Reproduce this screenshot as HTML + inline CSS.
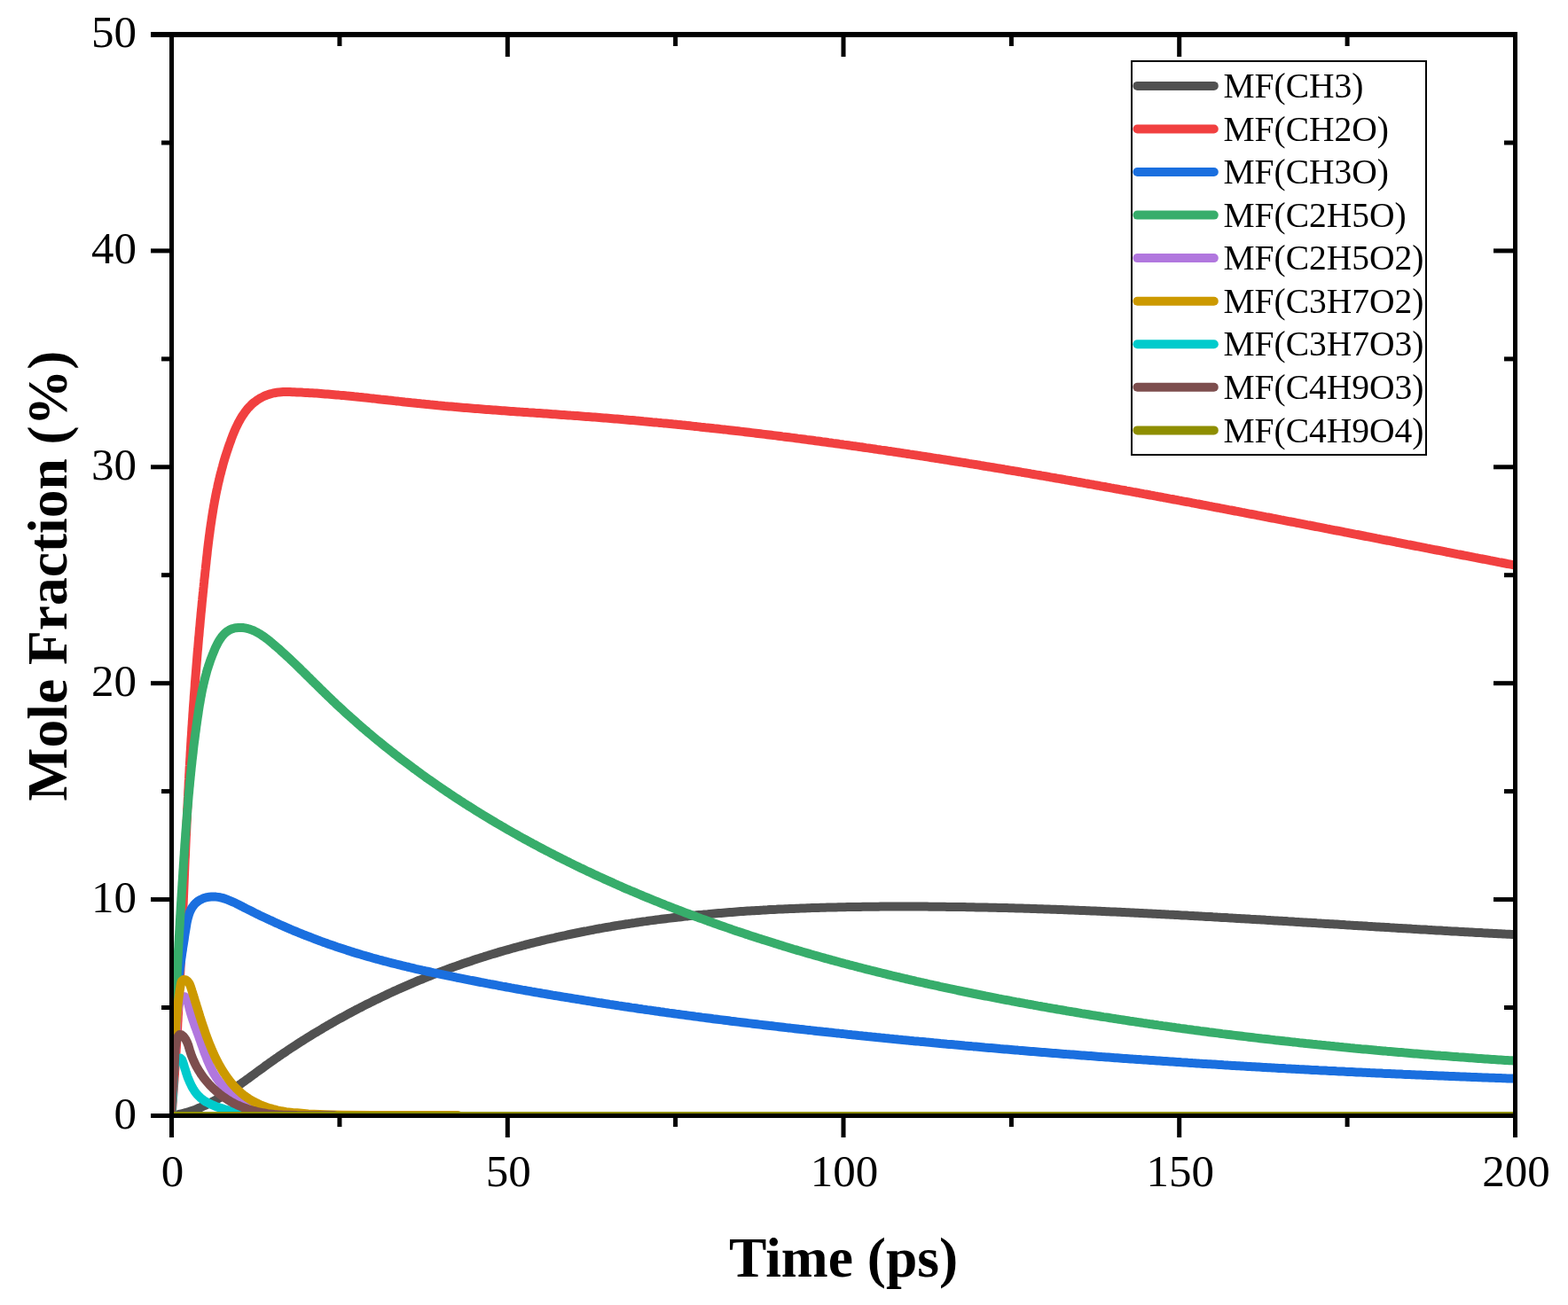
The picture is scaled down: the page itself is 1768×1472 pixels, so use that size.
<!DOCTYPE html>
<html><head><meta charset="utf-8"><title>Mole Fraction vs Time</title><style>html,body{margin:0;padding:0;background:#fff;}svg{display:block;}</style></head><body>
<svg width="1768" height="1472" viewBox="0 0 1768 1472">
<rect width="1768" height="1472" fill="#fff"/>
<defs><clipPath id="pc"><rect x="193.5" y="39" width="1515" height="1219.5"/></clipPath></defs>
<g clip-path="url(#pc)" fill="none" stroke-width="10" stroke-linejoin="round" stroke-linecap="butt">
<path stroke="#515151" d="M193.5,1258.5 196.0,1258.1 198.4,1257.7 200.9,1257.2 203.3,1256.6 205.8,1256.0 208.2,1255.4 210.6,1254.7 213.0,1254.0 215.4,1253.2 217.8,1252.4 220.1,1251.6 222.4,1250.7 224.7,1249.7 227.1,1248.8 229.3,1247.8 231.7,1246.7 233.9,1245.6 236.1,1244.5 238.4,1243.4 240.5,1242.2 242.8,1241.0 244.9,1239.8 247.1,1238.6 249.3,1237.3 251.4,1236.0 253.5,1234.7 255.6,1233.3 257.8,1232.0 259.8,1230.6 261.9,1229.2 264.0,1227.8 266.0,1226.4 268.1,1225.0 270.1,1223.5 272.2,1222.1 274.2,1220.6 276.3,1219.2 278.2,1217.7 280.3,1216.3 282.3,1214.8 284.3,1213.3 286.4,1211.8 288.3,1210.3 290.4,1208.8 292.4,1207.3 294.4,1205.9 296.4,1204.4 298.4,1202.9 300.5,1201.4 302.5,1200.0 304.5,1198.5 306.6,1197.1 308.6,1195.7 310.6,1194.2 312.7,1192.8 314.7,1191.4 316.8,1190.0 318.9,1188.5 320.9,1187.2 323.0,1185.8 325.1,1184.3 327.2,1182.9 329.2,1181.6 331.4,1180.2 333.5,1178.8 335.5,1177.5 337.6,1176.1 339.8,1174.8 341.8,1173.5 344.0,1172.1 346.1,1170.8 348.2,1169.5 350.3,1168.2 352.5,1166.8 354.6,1165.5 356.7,1164.3 358.9,1163.0 361.1,1161.7 363.2,1160.4 365.3,1159.1 367.5,1157.9 369.6,1156.6 371.8,1155.4 374.0,1154.1 376.2,1152.9 378.3,1151.6 380.5,1150.4 382.7,1149.2 384.9,1148.0 387.1,1146.8 389.3,1145.6 391.5,1144.4 393.6,1143.2 395.9,1142.0 398.1,1140.8 400.3,1139.7 402.5,1138.5 404.7,1137.4 407.0,1136.2 409.1,1135.1 411.4,1133.9 413.6,1132.8 415.9,1131.7 418.1,1130.6 420.3,1129.5 422.6,1128.3 424.9,1127.2 427.1,1126.2 429.3,1125.1 431.6,1124.0 433.9,1122.9 436.1,1121.9 438.4,1120.8 440.6,1119.8 442.9,1118.7 445.2,1117.7 447.4,1116.7 449.7,1115.6 452.0,1114.6 454.3,1113.6 456.6,1112.6 458.9,1111.6 461.2,1110.6 463.5,1109.6 465.8,1108.6 468.1,1107.7 470.4,1106.7 472.7,1105.7 475.0,1104.8 477.3,1103.8 479.7,1102.9 482.0,1101.9 484.3,1101.0 486.6,1100.1 488.9,1099.2 491.3,1098.3 493.6,1097.4 496.0,1096.5 498.3,1095.6 500.7,1094.7 502.9,1093.9 505.3,1093.0 507.6,1092.1 510.0,1091.3 512.4,1090.4 514.7,1089.6 517.1,1088.8 519.4,1087.9 521.8,1087.1 524.2,1086.3 526.5,1085.5 528.9,1084.7 531.3,1083.9 533.7,1083.1 536.0,1082.3 538.4,1081.5 540.8,1080.8 543.2,1080.0 545.6,1079.3 547.9,1078.5 550.3,1077.8 552.7,1077.0 555.1,1076.3 557.5,1075.6 559.9,1074.9 562.3,1074.1 564.7,1073.4 567.1,1072.7 569.5,1072.0 571.9,1071.4 574.3,1070.7 576.7,1070.0 579.1,1069.3 581.5,1068.7 583.9,1068.0 586.4,1067.4 588.8,1066.7 591.2,1066.1 593.6,1065.4 596.0,1064.8 598.4,1064.2 600.9,1063.6 603.3,1063.0 605.7,1062.4 608.1,1061.8 610.6,1061.2 613.0,1060.6 615.4,1060.0 617.9,1059.4 620.3,1058.9 622.7,1058.3 625.2,1057.8 627.6,1057.2 630.0,1056.7 632.5,1056.1 634.9,1055.6 637.4,1055.1 639.8,1054.5 642.3,1054.0 644.7,1053.5 647.2,1053.0 649.6,1052.5 652.1,1052.0 654.5,1051.5 657.0,1051.0 659.4,1050.5 661.9,1050.1 664.3,1049.6 666.8,1049.1 669.3,1048.7 671.7,1048.2 674.2,1047.7 676.6,1047.3 679.0,1046.9 681.5,1046.4 684.0,1046.0 686.4,1045.6 688.9,1045.2 691.4,1044.7 693.9,1044.3 696.3,1043.9 698.8,1043.5 701.3,1043.1 703.8,1042.7 706.2,1042.3 708.6,1042.0 711.1,1041.6 713.6,1041.2 716.1,1040.9 718.6,1040.5 721.0,1040.1 723.5,1039.8 726.0,1039.4 728.4,1039.1 730.9,1038.7 733.4,1038.4 735.9,1038.1 738.4,1037.8 740.9,1037.4 743.4,1037.1 745.8,1036.8 748.3,1036.5 750.8,1036.2 753.3,1035.9 755.8,1035.6 758.3,1035.3 760.7,1035.0 763.2,1034.7 765.7,1034.4 768.2,1034.2 770.7,1033.9 773.1,1033.6 775.6,1033.4 778.1,1033.1 780.6,1032.8 783.1,1032.6 785.5,1032.3 788.0,1032.1 790.6,1031.9 793.1,1031.6 795.5,1031.4 798.0,1031.2 800.5,1030.9 803.0,1030.7 805.5,1030.5 808.0,1030.3 810.5,1030.1 813.0,1029.9 815.4,1029.7 817.9,1029.5 820.4,1029.3 823.0,1029.1 825.4,1028.9 827.9,1028.7 830.4,1028.5 832.9,1028.3 835.4,1028.1 837.9,1028.0 840.4,1027.8 842.9,1027.6 845.4,1027.5 847.9,1027.3 850.3,1027.2 852.9,1027.0 855.4,1026.9 857.9,1026.7 860.3,1026.6 862.9,1026.4 865.4,1026.3 867.8,1026.1 870.3,1026.0 872.9,1025.9 875.3,1025.8 877.8,1025.6 880.4,1025.5 882.8,1025.4 885.3,1025.3 887.8,1025.2 890.3,1025.1 892.8,1025.0 895.3,1024.9 897.8,1024.8 900.3,1024.7 902.8,1024.6 905.3,1024.5 907.8,1024.4 910.3,1024.3 912.8,1024.2 915.3,1024.1 917.8,1024.0 920.3,1024.0 922.8,1023.9 925.3,1023.8 927.8,1023.7 930.3,1023.7 932.8,1023.6 935.3,1023.5 937.8,1023.5 940.3,1023.4 942.8,1023.4 945.3,1023.3 947.8,1023.3 950.3,1023.2 952.8,1023.2 955.3,1023.1 957.8,1023.1 960.3,1023.0 962.8,1023.0 965.3,1022.9 967.8,1022.9 970.3,1022.9 972.8,1022.8 975.3,1022.8 977.8,1022.8 980.3,1022.8 982.8,1022.7 985.3,1022.7 987.8,1022.7 990.3,1022.7 992.8,1022.6 995.3,1022.6 997.8,1022.6 1000.3,1022.6 1002.8,1022.6 1005.3,1022.6 1007.8,1022.6 1010.3,1022.6 1012.8,1022.6 1015.3,1022.6 1017.8,1022.6 1020.3,1022.6 1022.8,1022.6 1025.3,1022.6 1027.8,1022.6 1030.3,1022.6 1032.8,1022.6 1035.3,1022.6 1037.8,1022.6 1040.3,1022.6 1042.8,1022.6 1045.3,1022.6 1047.8,1022.7 1050.3,1022.7 1052.8,1022.7 1055.3,1022.7 1057.8,1022.7 1060.3,1022.8 1062.8,1022.8 1065.3,1022.8 1067.8,1022.9 1070.3,1022.9 1072.8,1022.9 1075.3,1022.9 1077.8,1023.0 1080.3,1023.0 1082.8,1023.1 1085.3,1023.1 1087.8,1023.1 1090.3,1023.2 1092.8,1023.2 1095.3,1023.3 1097.8,1023.3 1100.3,1023.4 1102.8,1023.4 1105.3,1023.4 1107.8,1023.5 1110.3,1023.6 1112.8,1023.6 1115.3,1023.7 1117.8,1023.7 1120.3,1023.8 1122.8,1023.8 1125.3,1023.9 1127.8,1023.9 1130.3,1024.0 1132.8,1024.1 1135.3,1024.1 1137.8,1024.2 1140.3,1024.3 1142.8,1024.3 1145.3,1024.4 1147.8,1024.5 1150.3,1024.5 1152.8,1024.6 1155.3,1024.7 1157.8,1024.8 1160.3,1024.8 1162.8,1024.9 1165.3,1025.0 1167.8,1025.1 1170.3,1025.2 1172.8,1025.2 1175.3,1025.3 1177.7,1025.4 1180.2,1025.5 1182.8,1025.6 1185.3,1025.7 1187.8,1025.8 1190.3,1025.8 1192.8,1025.9 1195.3,1026.0 1197.8,1026.1 1200.3,1026.2 1202.7,1026.3 1205.2,1026.4 1207.7,1026.5 1210.2,1026.6 1212.7,1026.7 1215.3,1026.8 1217.8,1026.9 1220.3,1027.0 1222.8,1027.1 1225.3,1027.2 1227.8,1027.3 1230.3,1027.4 1232.7,1027.5 1235.2,1027.6 1237.7,1027.7 1240.2,1027.8 1242.7,1027.9 1245.2,1028.0 1247.7,1028.2 1250.2,1028.3 1252.7,1028.4 1255.2,1028.5 1257.7,1028.6 1260.2,1028.7 1262.8,1028.8 1265.3,1029.0 1267.7,1029.1 1270.2,1029.2 1272.7,1029.3 1275.2,1029.4 1277.7,1029.5 1280.2,1029.7 1282.7,1029.8 1285.2,1029.9 1287.7,1030.0 1290.2,1030.2 1292.7,1030.3 1295.2,1030.4 1297.7,1030.5 1300.2,1030.7 1302.7,1030.8 1305.1,1030.9 1307.6,1031.0 1310.1,1031.2 1312.6,1031.3 1315.1,1031.4 1317.6,1031.6 1320.1,1031.7 1322.7,1031.8 1325.2,1032.0 1327.7,1032.1 1330.2,1032.2 1332.7,1032.4 1335.2,1032.5 1337.7,1032.6 1340.2,1032.8 1342.6,1032.9 1345.1,1033.0 1347.6,1033.2 1350.1,1033.3 1352.6,1033.4 1355.1,1033.6 1357.6,1033.7 1360.1,1033.9 1362.6,1034.0 1365.1,1034.1 1367.6,1034.3 1370.1,1034.4 1372.6,1034.6 1375.1,1034.7 1377.6,1034.9 1380.0,1035.0 1382.5,1035.1 1385.0,1035.3 1387.5,1035.4 1390.0,1035.6 1392.5,1035.7 1395.0,1035.9 1397.5,1036.0 1400.0,1036.2 1402.5,1036.3 1405.0,1036.5 1407.5,1036.6 1410.1,1036.8 1412.6,1036.9 1415.0,1037.0 1417.5,1037.2 1420.0,1037.3 1422.5,1037.5 1425.0,1037.6 1427.5,1037.8 1430.0,1037.9 1432.5,1038.1 1435.0,1038.2 1437.5,1038.4 1440.0,1038.5 1442.5,1038.7 1444.9,1038.8 1447.4,1039.0 1449.9,1039.1 1452.4,1039.3 1454.9,1039.4 1457.4,1039.6 1459.9,1039.8 1462.4,1039.9 1464.9,1040.1 1467.5,1040.2 1470.0,1040.4 1472.4,1040.5 1474.9,1040.7 1477.4,1040.8 1479.9,1041.0 1482.4,1041.1 1484.9,1041.3 1487.4,1041.4 1489.9,1041.6 1492.4,1041.7 1494.8,1041.9 1497.3,1042.0 1499.8,1042.2 1502.4,1042.3 1504.9,1042.5 1507.4,1042.6 1509.9,1042.8 1512.4,1043.0 1514.9,1043.1 1517.3,1043.3 1519.8,1043.4 1522.3,1043.6 1524.8,1043.7 1527.3,1043.9 1529.8,1044.0 1532.3,1044.2 1534.8,1044.3 1537.3,1044.5 1539.8,1044.6 1542.3,1044.8 1544.8,1044.9 1547.3,1045.1 1549.8,1045.2 1552.2,1045.4 1554.7,1045.5 1557.3,1045.7 1559.8,1045.8 1562.3,1046.0 1564.8,1046.1 1567.3,1046.3 1569.7,1046.4 1572.2,1046.6 1574.7,1046.7 1577.2,1046.9 1579.7,1047.0 1582.3,1047.2 1584.7,1047.3 1587.2,1047.5 1589.7,1047.6 1592.2,1047.8 1594.7,1047.9 1597.2,1048.1 1599.7,1048.2 1602.2,1048.4 1604.7,1048.5 1607.2,1048.6 1609.7,1048.8 1612.1,1048.9 1614.7,1049.1 1617.2,1049.2 1619.7,1049.4 1622.2,1049.5 1624.6,1049.6 1627.1,1049.8 1629.7,1049.9 1632.2,1050.1 1634.6,1050.2 1637.1,1050.4 1639.6,1050.5 1642.1,1050.6 1644.7,1050.8 1647.1,1050.9 1649.6,1051.0 1652.1,1051.2 1654.6,1051.3 1657.1,1051.5 1659.6,1051.6 1662.1,1051.7 1664.6,1051.9 1667.1,1052.0 1669.6,1052.1 1672.1,1052.3 1674.6,1052.4 1677.0,1052.5 1679.6,1052.7 1682.1,1052.8 1684.6,1052.9 1687.0,1053.0 1689.6,1053.2 1692.1,1053.3 1694.6,1053.4 1697.0,1053.6 1699.6,1053.7 1702.1,1053.8 1704.5,1053.9 1707.0,1054.1 1709.6,1054.2 1712.0,1054.3"/>
<path stroke="#F14040" d="M193.5,1258.5 193.7,1255.9 193.9,1253.4 194.1,1250.9 194.3,1248.5 194.5,1246.0 194.7,1243.5 194.9,1241.0 195.0,1238.5 195.2,1236.0 195.4,1233.5 195.6,1231.0 195.8,1228.5 195.9,1226.0 196.1,1223.5 196.3,1221.1 196.5,1218.6 196.6,1216.1 196.8,1213.5 197.0,1211.0 197.1,1208.5 197.3,1206.1 197.5,1203.6 197.6,1201.1 197.8,1198.6 197.9,1196.1 198.1,1193.5 198.3,1191.1 198.4,1188.6 198.6,1186.1 198.7,1183.6 198.9,1181.1 199.0,1178.7 199.2,1176.2 199.3,1173.6 199.5,1171.1 199.6,1168.6 199.7,1166.1 199.9,1163.7 200.0,1161.2 200.2,1158.7 200.3,1156.1 200.4,1153.6 200.6,1151.1 200.7,1148.6 200.8,1146.2 201.0,1143.7 201.1,1141.2 201.2,1138.7 201.4,1136.1 201.5,1133.6 201.6,1131.2 201.7,1128.7 201.9,1126.2 202.0,1123.7 202.1,1121.2 202.2,1118.7 202.4,1116.1 202.5,1113.7 202.6,1111.2 202.7,1108.7 202.8,1106.2 203.0,1103.7 203.1,1101.2 203.2,1098.7 203.3,1096.2 203.4,1093.7 203.5,1091.2 203.6,1088.7 203.8,1086.2 203.9,1083.8 204.0,1081.3 204.1,1078.7 204.2,1076.2 204.3,1073.7 204.4,1071.2 204.5,1068.7 204.6,1066.3 204.7,1063.8 204.9,1061.3 205.0,1058.7 205.1,1056.2 205.2,1053.7 205.3,1051.2 205.4,1048.8 205.5,1046.3 205.6,1043.8 205.7,1041.2 205.8,1038.7 205.9,1036.2 206.0,1033.7 206.1,1031.3 206.2,1028.8 206.3,1026.3 206.4,1023.8 206.5,1021.2 206.7,1018.7 206.8,1016.2 206.9,1013.8 207.0,1011.3 207.1,1008.8 207.2,1006.3 207.3,1003.8 207.4,1001.2 207.5,998.7 207.6,996.3 207.7,993.8 207.8,991.3 207.9,988.8 208.0,986.3 208.1,983.7 208.2,981.2 208.3,978.8 208.4,976.3 208.5,973.8 208.6,971.3 208.7,968.8 208.9,966.3 209.0,963.7 209.1,961.3 209.2,958.8 209.3,956.3 209.4,953.8 209.5,951.3 209.6,948.8 209.7,946.4 209.8,943.8 210.0,941.3 210.1,938.8 210.2,936.3 210.3,933.8 210.4,931.3 210.5,928.9 210.6,926.4 210.8,923.8 210.9,921.3 211.0,918.8 211.1,916.3 211.2,913.8 211.3,911.4 211.5,908.9 211.6,906.4 211.7,903.8 211.8,901.3 212.0,898.8 212.1,896.3 212.2,893.9 212.3,891.4 212.5,888.9 212.6,886.4 212.7,883.8 212.8,881.3 213.0,878.8 213.1,876.4 213.2,873.9 213.4,871.4 213.5,868.9 213.6,866.4 213.8,863.8 213.9,861.4 214.1,858.9 214.2,856.4 214.4,853.9 214.5,851.4 214.6,848.9 214.8,846.5 214.9,844.0 215.1,841.4 215.2,838.9 215.4,836.4 215.5,833.9 215.7,831.4 215.9,829.0 216.0,826.5 216.2,824.0 216.3,821.5 216.5,818.9 216.7,816.4 216.8,813.9 217.0,811.5 217.2,809.0 217.3,806.5 217.5,804.0 217.7,801.5 217.8,799.1 218.0,796.5 218.2,794.0 218.4,791.5 218.6,789.0 218.7,786.5 218.9,784.0 219.1,781.6 219.3,779.1 219.5,776.6 219.7,774.0 219.8,771.5 220.0,769.0 220.2,766.6 220.4,764.1 220.6,761.6 220.8,759.1 221.0,756.6 221.2,754.2 221.4,751.6 221.6,749.1 221.8,746.6 222.0,744.1 222.2,741.7 222.4,739.2 222.6,736.7 222.8,734.2 223.1,731.6 223.3,729.2 223.5,726.7 223.7,724.2 223.9,721.7 224.1,719.2 224.4,716.8 224.6,714.3 224.8,711.7 225.0,709.2 225.3,706.8 225.5,704.3 225.7,701.8 225.9,699.3 226.2,696.9 226.4,694.4 226.6,691.8 226.9,689.3 227.1,686.8 227.4,684.4 227.6,681.9 227.8,679.4 228.1,677.0 228.3,674.4 228.6,671.9 228.8,669.4 229.1,667.0 229.3,664.5 229.6,662.0 229.8,659.4 230.1,657.0 230.3,654.5 230.6,652.0 230.9,649.6 231.1,647.1 231.4,644.5 231.7,642.0 231.9,639.6 232.2,637.1 232.5,634.6 232.7,632.2 233.0,629.6 233.3,627.1 233.6,624.7 233.8,622.2 234.1,619.7 234.4,617.2 234.7,614.7 235.0,612.2 235.3,609.8 235.6,607.3 235.9,604.9 236.3,602.3 236.6,599.8 236.9,597.4 237.3,594.9 237.6,592.5 238.0,589.9 238.4,587.5 238.7,585.0 239.1,582.6 239.5,580.1 239.9,577.6 240.3,575.1 240.7,572.7 241.1,570.2 241.6,567.8 242.0,565.2 242.5,562.8 243.0,560.3 243.4,557.9 243.9,555.5 244.4,553.0 245.0,550.6 245.5,548.1 246.0,545.6 246.6,543.2 247.2,540.8 247.7,538.4 248.3,535.9 249.0,533.5 249.6,531.1 250.2,528.7 250.9,526.3 251.5,523.9 252.2,521.4 252.9,519.0 253.6,516.6 254.4,514.2 255.1,511.9 255.9,509.5 256.7,507.1 257.5,504.7 258.3,502.3 259.1,500.1 260.0,497.7 260.8,495.3 261.7,493.0 262.6,490.6 263.5,488.4 264.5,486.0 265.5,483.7 266.6,481.4 267.6,479.3 268.7,477.0 270.0,474.7 271.2,472.6 272.4,470.5 273.8,468.3 275.2,466.3 276.7,464.2 278.2,462.2 279.8,460.3 281.5,458.6 283.3,456.7 285.1,455.0 287.1,453.4 289.1,451.9 291.0,450.6 293.2,449.2 295.4,448.1 297.7,446.9 299.9,446.0 302.3,445.1 304.7,444.4 307.2,443.7 309.6,443.2 312.0,442.8 314.5,442.4 317.0,442.2 319.4,442.0 322.0,442.0 324.4,442.1 326.9,442.1 329.5,442.2 332.0,442.3 334.5,442.4 337.0,442.5 339.5,442.6 342.0,442.8 344.5,442.9 346.9,443.0 349.4,443.2 352.0,443.3 354.5,443.5 357.0,443.6 359.4,443.8 361.9,444.0 364.4,444.2 366.9,444.4 369.5,444.6 371.9,444.8 374.4,445.0 376.9,445.2 379.4,445.4 381.8,445.6 384.4,445.9 386.9,446.1 389.4,446.3 391.8,446.6 394.3,446.8 396.9,447.0 399.3,447.3 401.8,447.5 404.3,447.8 406.7,448.0 409.2,448.3 411.8,448.6 414.3,448.8 416.7,449.1 419.2,449.4 421.7,449.6 424.1,449.9 426.7,450.2 429.2,450.5 431.6,450.7 434.1,451.0 436.6,451.3 439.1,451.6 441.6,451.8 444.1,452.1 446.5,452.4 449.0,452.6 451.5,452.9 454.1,453.2 456.5,453.5 459.0,453.7 461.5,454.0 463.9,454.3 466.4,454.5 469.0,454.8 471.4,455.1 473.9,455.3 476.4,455.6 478.8,455.8 481.3,456.1 483.9,456.3 486.4,456.6 488.8,456.8 491.3,457.0 493.8,457.3 496.3,457.5 498.7,457.7 501.3,458.0 503.8,458.2 506.3,458.4 508.7,458.6 511.2,458.8 513.7,459.1 516.2,459.3 518.8,459.5 521.2,459.7 523.7,459.9 526.2,460.1 528.7,460.3 531.2,460.5 533.6,460.7 536.1,460.9 538.7,461.1 541.2,461.3 543.7,461.5 546.1,461.7 548.6,461.9 551.1,462.0 553.6,462.2 556.1,462.4 558.5,462.6 561.1,462.8 563.6,463.0 566.1,463.2 568.6,463.3 571.1,463.5 573.5,463.7 576.0,463.9 578.5,464.0 581.0,464.2 583.6,464.4 586.1,464.6 588.6,464.7 591.0,464.9 593.5,465.1 596.0,465.3 598.5,465.4 601.0,465.6 603.5,465.8 605.9,465.9 608.5,466.1 611.0,466.3 613.5,466.5 616.0,466.6 618.5,466.8 621.0,467.0 623.4,467.2 625.9,467.3 628.4,467.5 630.9,467.7 633.5,467.9 636.0,468.0 638.4,468.2 640.9,468.4 643.4,468.6 645.9,468.7 648.4,468.9 650.9,469.1 653.3,469.3 655.8,469.5 658.4,469.7 660.9,469.9 663.4,470.0 665.9,470.2 668.3,470.4 670.8,470.6 673.3,470.8 675.8,471.0 678.3,471.2 680.9,471.4 683.3,471.6 685.8,471.8 688.3,472.0 690.8,472.2 693.3,472.4 695.7,472.6 698.2,472.8 700.7,473.0 703.2,473.3 705.8,473.5 708.3,473.7 710.7,473.9 713.2,474.1 715.7,474.3 718.2,474.6 720.6,474.8 723.1,475.0 725.7,475.3 728.2,475.5 730.7,475.7 733.1,475.9 735.6,476.2 738.1,476.4 740.6,476.6 743.0,476.9 745.5,477.1 748.1,477.4 750.6,477.6 753.1,477.8 755.5,478.1 758.0,478.3 760.5,478.6 763.0,478.8 765.4,479.1 768.0,479.3 770.5,479.6 773.0,479.8 775.4,480.1 777.9,480.3 780.4,480.6 782.9,480.9 785.3,481.1 787.9,481.4 790.4,481.7 792.9,481.9 795.3,482.2 797.8,482.4 800.3,482.7 802.7,483.0 805.2,483.3 807.8,483.5 810.3,483.8 812.7,484.1 815.2,484.4 817.7,484.6 820.2,484.9 822.6,485.2 825.2,485.5 827.7,485.8 830.1,486.1 832.6,486.3 835.1,486.6 837.6,486.9 840.0,487.2 842.5,487.5 845.1,487.8 847.5,488.1 850.0,488.4 852.5,488.7 854.9,489.0 857.4,489.3 859.9,489.6 862.4,489.9 864.9,490.2 867.4,490.5 869.9,490.8 872.3,491.1 874.8,491.4 877.3,491.7 879.7,492.0 882.3,492.4 884.8,492.7 887.2,493.0 889.7,493.3 892.2,493.6 894.6,493.9 897.1,494.2 899.6,494.6 902.1,494.9 904.6,495.2 907.1,495.5 909.5,495.9 912.0,496.2 914.5,496.5 916.9,496.8 919.5,497.2 922.0,497.5 924.4,497.8 926.9,498.2 929.4,498.5 931.8,498.8 934.3,499.2 936.8,499.5 939.3,499.9 941.8,500.2 944.3,500.5 946.7,500.9 949.2,501.2 951.6,501.6 954.1,501.9 956.6,502.2 959.1,502.6 961.6,503.0 964.1,503.3 966.5,503.6 969.0,504.0 971.4,504.3 973.9,504.7 976.5,505.1 978.9,505.4 981.4,505.8 983.9,506.1 986.3,506.5 988.8,506.9 991.2,507.2 993.7,507.6 996.3,507.9 998.7,508.3 1001.2,508.7 1003.6,509.0 1006.1,509.4 1008.6,509.8 1011.0,510.1 1013.6,510.5 1016.0,510.9 1018.5,511.3 1021.0,511.6 1023.4,512.0 1025.9,512.4 1028.3,512.7 1030.8,513.1 1033.4,513.5 1035.8,513.9 1038.3,514.3 1040.7,514.6 1043.2,515.0 1045.7,515.4 1048.1,515.8 1050.6,516.2 1053.1,516.6 1055.6,517.0 1058.0,517.3 1060.5,517.7 1063.0,518.1 1065.4,518.5 1067.9,518.9 1070.3,519.3 1072.9,519.7 1075.3,520.1 1077.8,520.5 1080.3,520.9 1082.7,521.3 1085.2,521.6 1087.6,522.0 1090.1,522.4 1092.6,522.9 1095.1,523.3 1097.6,523.6 1100.0,524.0 1102.5,524.4 1104.9,524.8 1107.4,525.3 1109.8,525.7 1112.4,526.1 1114.8,526.5 1117.3,526.9 1119.7,527.3 1122.2,527.7 1124.7,528.1 1127.1,528.5 1129.6,528.9 1132.1,529.3 1134.6,529.8 1137.0,530.2 1139.5,530.6 1141.9,531.0 1144.4,531.4 1146.8,531.8 1149.3,532.2 1151.9,532.7 1154.3,533.1 1156.8,533.5 1159.2,533.9 1161.7,534.3 1164.1,534.8 1166.6,535.2 1169.0,535.6 1171.6,536.0 1174.0,536.5 1176.5,536.9 1178.9,537.3 1181.4,537.7 1183.8,538.2 1186.3,538.6 1188.7,539.0 1191.3,539.5 1193.7,539.9 1196.2,540.3 1198.6,540.7 1201.1,541.2 1203.5,541.6 1206.0,542.0 1208.4,542.5 1210.9,542.9 1213.4,543.3 1215.9,543.8 1218.3,544.2 1220.8,544.6 1223.2,545.1 1225.7,545.5 1228.1,546.0 1230.6,546.4 1233.1,546.8 1235.6,547.3 1238.0,547.7 1240.5,548.2 1242.9,548.6 1245.4,549.0 1247.8,549.5 1250.3,549.9 1252.7,550.4 1255.3,550.8 1257.7,551.3 1260.2,551.7 1262.6,552.2 1265.1,552.6 1267.5,553.0 1270.0,553.5 1272.4,553.9 1275.0,554.4 1277.4,554.9 1279.9,555.3 1282.3,555.7 1284.8,556.2 1287.2,556.6 1289.7,557.1 1292.1,557.5 1294.6,558.0 1297.1,558.5 1299.6,558.9 1302.0,559.4 1304.5,559.8 1306.9,560.3 1309.3,560.7 1311.8,561.2 1314.2,561.6 1316.7,562.1 1319.2,562.6 1321.7,563.0 1324.1,563.5 1326.6,563.9 1329.0,564.4 1331.5,564.8 1333.9,565.3 1336.4,565.8 1338.9,566.2 1341.4,566.7 1343.8,567.2 1346.2,567.6 1348.7,568.1 1351.1,568.5 1353.6,569.0 1356.0,569.5 1358.5,569.9 1361.0,570.4 1363.5,570.9 1365.9,571.3 1368.4,571.8 1370.8,572.3 1373.2,572.7 1375.7,573.2 1378.1,573.6 1380.6,574.1 1383.1,574.6 1385.6,575.1 1388.0,575.5 1390.5,576.0 1392.9,576.5 1395.4,576.9 1397.8,577.4 1400.2,577.9 1402.8,578.3 1405.2,578.8 1407.7,579.3 1410.1,579.8 1412.6,580.2 1415.0,580.7 1417.5,581.2 1419.9,581.6 1422.3,582.1 1424.9,582.6 1427.3,583.1 1429.8,583.5 1432.2,584.0 1434.7,584.5 1437.1,584.9 1439.5,585.4 1442.0,585.9 1444.4,586.4 1447.0,586.8 1449.4,587.3 1451.9,587.8 1454.3,588.3 1456.8,588.7 1459.2,589.2 1461.6,589.7 1464.1,590.1 1466.6,590.6 1469.1,591.1 1471.5,591.6 1474.0,592.1 1476.4,592.5 1478.8,593.0 1481.3,593.5 1483.7,594.0 1486.2,594.4 1488.7,594.9 1491.2,595.4 1493.6,595.9 1496.0,596.4 1498.5,596.8 1500.9,597.3 1503.4,597.8 1505.8,598.3 1508.4,598.7 1510.8,599.2 1513.2,599.7 1515.7,600.2 1518.1,600.6 1520.6,601.1 1523.0,601.6 1525.4,602.1 1528.0,602.6 1530.4,603.0 1532.9,603.5 1535.3,604.0 1537.8,604.5 1540.2,605.0 1542.6,605.4 1545.1,605.9 1547.6,606.4 1550.1,606.9 1552.5,607.4 1555.0,607.8 1557.4,608.3 1559.8,608.8 1562.3,609.3 1564.7,609.7 1567.3,610.2 1569.7,610.7 1572.2,611.2 1574.6,611.7 1577.0,612.1 1579.5,612.6 1581.9,613.1 1584.4,613.6 1586.9,614.1 1589.3,614.5 1591.8,615.0 1594.2,615.5 1596.7,616.0 1599.1,616.4 1601.5,616.9 1604.0,617.4 1606.5,617.9 1609.0,618.4 1611.4,618.8 1613.9,619.3 1616.3,619.8 1618.7,620.3 1621.2,620.7 1623.6,621.2 1626.2,621.7 1628.6,622.2 1631.0,622.7 1633.5,623.1 1635.9,623.6 1638.4,624.1 1640.8,624.6 1643.4,625.1 1645.8,625.5 1648.2,626.0 1650.7,626.5 1653.1,626.9 1655.6,627.4 1658.0,627.9 1660.5,628.4 1663.0,628.9 1665.4,629.3 1667.9,629.8 1670.3,630.3 1672.7,630.7 1675.2,631.2 1677.6,631.7 1680.2,632.2 1682.6,632.6 1685.1,633.1 1687.5,633.6 1689.9,634.1 1692.4,634.5 1694.8,635.0 1697.4,635.5 1699.8,636.0 1702.2,636.4 1704.7,636.9 1707.1,637.4 1709.6,637.8 1712.0,638.3"/>
<path stroke="#1A6FDF" d="M193.5,1258.5 193.6,1256.0 193.7,1253.5 193.8,1251.0 193.9,1248.4 194.0,1245.9 194.1,1243.5 194.2,1241.0 194.3,1238.4 194.4,1236.0 194.4,1233.4 194.5,1231.0 194.6,1228.4 194.7,1226.0 194.8,1223.4 194.9,1221.0 194.9,1218.4 195.0,1215.9 195.1,1213.5 195.2,1210.9 195.3,1208.4 195.4,1206.0 195.5,1203.5 195.5,1200.9 195.6,1198.4 195.7,1196.0 195.8,1193.5 195.9,1190.9 196.0,1188.4 196.1,1185.9 196.2,1183.5 196.3,1181.0 196.4,1178.4 196.5,1175.9 196.6,1173.4 196.7,1171.0 196.9,1168.5 197.0,1165.9 197.1,1163.4 197.2,1161.0 197.4,1158.5 197.5,1155.9 197.7,1153.4 197.8,1151.0 197.9,1148.5 198.1,1145.9 198.3,1143.5 198.4,1141.0 198.6,1138.5 198.8,1136.0 199.0,1133.4 199.1,1131.0 199.3,1128.4 199.5,1126.0 199.7,1123.5 199.9,1121.0 200.2,1118.5 200.4,1116.0 200.6,1113.5 200.9,1111.0 201.1,1108.6 201.4,1106.1 201.6,1103.6 201.9,1101.1 202.2,1098.6 202.5,1096.1 202.8,1093.6 203.1,1091.1 203.4,1088.6 203.7,1086.2 204.1,1083.7 204.4,1081.2 204.8,1078.7 205.1,1076.3 205.5,1073.8 205.9,1071.4 206.2,1068.8 206.6,1066.4 207.0,1063.9 207.4,1061.5 207.8,1059.0 208.1,1056.4 208.5,1054.0 208.9,1051.5 209.3,1049.1 209.7,1046.6 210.1,1044.1 210.5,1041.6 211.0,1039.2 211.6,1036.7 212.2,1034.3 212.9,1032.0 213.7,1029.6 214.7,1027.3 215.8,1025.0 217.1,1022.9 218.6,1020.9 220.3,1019.0 222.1,1017.4 224.2,1015.9 226.4,1014.7 228.6,1013.6 231.0,1012.8 233.4,1012.1 235.9,1011.7 238.3,1011.5 240.9,1011.4 243.4,1011.6 245.8,1011.9 248.3,1012.3 250.8,1012.9 253.1,1013.6 255.5,1014.4 257.8,1015.3 260.2,1016.3 262.5,1017.3 264.7,1018.3 267.0,1019.4 269.2,1020.5 271.5,1021.7 273.7,1022.8 275.9,1024.0 278.1,1025.1 280.4,1026.2 282.6,1027.3 284.9,1028.5 287.1,1029.6 289.3,1030.7 291.5,1031.8 293.8,1032.9 296.1,1034.0 298.3,1035.0 300.6,1036.1 302.9,1037.1 305.1,1038.2 307.4,1039.2 309.7,1040.3 312.0,1041.3 314.2,1042.3 316.5,1043.4 318.9,1044.4 321.1,1045.4 323.4,1046.4 325.7,1047.4 328.0,1048.4 330.3,1049.3 332.6,1050.3 335.0,1051.2 337.2,1052.2 339.6,1053.1 341.9,1054.1 344.2,1055.0 346.5,1055.9 348.9,1056.8 351.2,1057.7 353.5,1058.6 355.9,1059.5 358.2,1060.4 360.6,1061.3 362.9,1062.1 365.2,1063.0 367.6,1063.8 370.0,1064.7 372.3,1065.5 374.7,1066.3 377.1,1067.1 379.5,1068.0 381.8,1068.7 384.2,1069.5 386.6,1070.3 389.0,1071.1 391.3,1071.9 393.7,1072.6 396.1,1073.4 398.4,1074.1 400.9,1074.9 403.3,1075.6 405.7,1076.3 408.0,1077.0 410.5,1077.7 412.8,1078.4 415.3,1079.1 417.7,1079.8 420.0,1080.5 422.5,1081.2 424.9,1081.8 427.3,1082.5 429.8,1083.1 432.1,1083.8 434.6,1084.4 437.0,1085.0 439.4,1085.7 441.8,1086.3 444.3,1086.9 446.7,1087.5 449.1,1088.1 451.5,1088.7 454.0,1089.3 456.4,1089.9 458.9,1090.5 461.3,1091.0 463.7,1091.6 466.1,1092.2 468.6,1092.8 471.0,1093.3 473.4,1093.8 475.9,1094.4 478.3,1094.9 480.8,1095.5 483.2,1096.0 485.7,1096.5 488.2,1097.1 490.6,1097.6 493.1,1098.1 495.5,1098.6 497.9,1099.1 500.4,1099.7 502.8,1100.2 505.2,1100.7 507.8,1101.2 510.2,1101.7 512.6,1102.2 515.1,1102.7 517.5,1103.1 520.0,1103.6 522.5,1104.1 524.9,1104.6 527.4,1105.1 529.8,1105.6 532.2,1106.0 534.8,1106.5 537.2,1107.0 539.6,1107.5 542.1,1108.0 544.5,1108.4 547.0,1108.9 549.5,1109.4 551.9,1109.8 554.4,1110.3 556.9,1110.7 559.3,1111.2 561.8,1111.7 564.2,1112.1 566.7,1112.6 569.2,1113.0 571.6,1113.5 574.1,1113.9 576.5,1114.4 579.0,1114.8 581.5,1115.3 583.9,1115.7 586.4,1116.1 588.8,1116.6 591.3,1117.0 593.8,1117.5 596.2,1117.9 598.7,1118.3 601.2,1118.8 603.6,1119.2 606.1,1119.6 608.5,1120.0 611.1,1120.5 613.5,1120.9 615.9,1121.3 618.4,1121.7 620.9,1122.1 623.4,1122.6 625.8,1123.0 628.3,1123.4 630.8,1123.8 633.2,1124.2 635.7,1124.6 638.2,1125.0 640.7,1125.4 643.1,1125.8 645.5,1126.2 648.1,1126.6 650.5,1127.0 653.0,1127.4 655.4,1127.8 658.0,1128.2 660.4,1128.6 662.8,1129.0 665.4,1129.4 667.8,1129.8 670.3,1130.2 672.7,1130.6 675.3,1131.0 677.7,1131.3 680.2,1131.7 682.7,1132.1 685.1,1132.5 687.6,1132.9 690.1,1133.2 692.6,1133.6 695.0,1134.0 697.5,1134.4 700.0,1134.7 702.4,1135.1 704.9,1135.5 707.4,1135.8 709.9,1136.2 712.3,1136.6 714.9,1136.9 717.3,1137.3 719.8,1137.7 722.3,1138.0 724.7,1138.4 727.2,1138.7 729.7,1139.1 732.2,1139.4 734.6,1139.8 737.1,1140.1 739.6,1140.5 742.1,1140.8 744.5,1141.2 747.0,1141.5 749.5,1141.9 751.9,1142.2 754.5,1142.6 756.9,1142.9 759.4,1143.2 761.9,1143.6 764.4,1143.9 766.8,1144.3 769.4,1144.6 771.8,1144.9 774.3,1145.3 776.8,1145.6 779.2,1145.9 781.8,1146.2 784.2,1146.6 786.7,1146.9 789.2,1147.2 791.7,1147.6 794.1,1147.9 796.7,1148.2 799.1,1148.5 801.5,1148.8 804.1,1149.2 806.5,1149.5 809.0,1149.8 811.5,1150.1 814.0,1150.4 816.5,1150.7 819.0,1151.0 821.4,1151.3 824.0,1151.7 826.4,1152.0 828.9,1152.3 831.4,1152.6 833.8,1152.9 836.4,1153.2 838.8,1153.5 841.3,1153.8 843.8,1154.1 846.3,1154.4 848.7,1154.7 851.3,1155.0 853.7,1155.3 856.3,1155.6 858.7,1155.9 861.1,1156.2 863.7,1156.5 866.1,1156.8 868.7,1157.1 871.1,1157.3 873.6,1157.6 876.1,1157.9 878.6,1158.2 881.1,1158.5 883.6,1158.8 886.0,1159.1 888.6,1159.4 891.0,1159.6 893.5,1159.9 896.0,1160.2 898.4,1160.5 901.0,1160.8 903.4,1161.0 906.0,1161.3 908.4,1161.6 910.9,1161.9 913.4,1162.1 915.9,1162.4 918.4,1162.7 920.9,1163.0 923.4,1163.2 925.8,1163.5 928.3,1163.8 930.8,1164.0 933.3,1164.3 935.8,1164.6 938.3,1164.8 940.7,1165.1 943.3,1165.4 945.7,1165.6 948.3,1165.9 950.7,1166.1 953.2,1166.4 955.7,1166.7 958.2,1166.9 960.7,1167.2 963.1,1167.4 965.7,1167.7 968.1,1168.0 970.7,1168.2 973.1,1168.5 975.6,1168.7 978.1,1169.0 980.5,1169.2 983.1,1169.5 985.5,1169.7 988.1,1170.0 990.5,1170.2 993.1,1170.5 995.5,1170.7 998.0,1171.0 1000.5,1171.2 1002.9,1171.5 1005.5,1171.7 1007.9,1172.0 1010.5,1172.2 1012.9,1172.5 1015.5,1172.7 1017.9,1173.0 1020.5,1173.2 1022.9,1173.4 1025.4,1173.7 1027.9,1173.9 1030.3,1174.2 1032.9,1174.4 1035.3,1174.6 1037.9,1174.9 1040.3,1175.1 1042.9,1175.3 1045.3,1175.6 1047.9,1175.8 1050.3,1176.0 1052.8,1176.3 1055.3,1176.5 1057.8,1176.7 1060.3,1177.0 1062.7,1177.2 1065.3,1177.4 1067.7,1177.7 1070.3,1177.9 1072.7,1178.1 1075.2,1178.3 1077.7,1178.6 1080.2,1178.8 1082.7,1179.0 1085.2,1179.2 1087.7,1179.5 1090.2,1179.7 1092.7,1179.9 1095.2,1180.1 1097.6,1180.4 1100.2,1180.6 1102.6,1180.8 1105.2,1181.0 1107.6,1181.2 1110.2,1181.5 1112.6,1181.7 1115.1,1181.9 1117.6,1182.1 1120.1,1182.3 1122.6,1182.5 1125.1,1182.7 1127.6,1183.0 1130.0,1183.2 1132.6,1183.4 1135.0,1183.6 1137.6,1183.8 1140.0,1184.0 1142.5,1184.2 1145.0,1184.4 1147.5,1184.6 1150.0,1184.9 1152.5,1185.1 1155.0,1185.3 1157.5,1185.5 1159.9,1185.7 1162.5,1185.9 1164.9,1186.1 1167.5,1186.3 1169.9,1186.5 1172.5,1186.7 1174.9,1186.9 1177.5,1187.1 1179.9,1187.3 1182.4,1187.5 1184.9,1187.7 1187.4,1187.9 1189.9,1188.1 1192.4,1188.3 1194.9,1188.5 1197.4,1188.7 1199.9,1188.9 1202.4,1189.1 1204.9,1189.2 1207.4,1189.4 1209.9,1189.6 1212.4,1189.8 1214.9,1190.0 1217.4,1190.2 1219.9,1190.4 1222.3,1190.6 1224.9,1190.8 1227.3,1191.0 1229.9,1191.1 1232.3,1191.3 1234.9,1191.5 1237.3,1191.7 1239.8,1191.9 1242.3,1192.1 1244.8,1192.2 1247.3,1192.4 1249.8,1192.6 1252.3,1192.8 1254.8,1193.0 1257.2,1193.2 1259.8,1193.3 1262.2,1193.5 1264.8,1193.7 1267.3,1193.9 1269.8,1194.0 1272.3,1194.2 1274.8,1194.4 1277.3,1194.6 1279.7,1194.7 1282.3,1194.9 1284.7,1195.1 1287.3,1195.3 1289.7,1195.4 1292.3,1195.6 1294.7,1195.8 1297.2,1196.0 1299.7,1196.1 1302.2,1196.3 1304.7,1196.5 1307.2,1196.6 1309.7,1196.8 1312.2,1197.0 1314.7,1197.1 1317.2,1197.3 1319.7,1197.5 1322.2,1197.6 1324.7,1197.8 1327.2,1198.0 1329.7,1198.1 1332.1,1198.3 1334.7,1198.4 1337.1,1198.6 1339.7,1198.8 1342.1,1198.9 1344.7,1199.1 1347.2,1199.2 1349.6,1199.4 1352.2,1199.6 1354.6,1199.7 1357.2,1199.9 1359.6,1200.0 1362.2,1200.2 1364.6,1200.3 1367.2,1200.5 1369.6,1200.6 1372.1,1200.8 1374.6,1201.0 1377.1,1201.1 1379.7,1201.3 1382.1,1201.4 1384.7,1201.6 1387.1,1201.7 1389.6,1201.9 1392.1,1202.0 1394.6,1202.2 1397.1,1202.3 1399.6,1202.4 1402.1,1202.6 1404.6,1202.7 1407.1,1202.9 1409.6,1203.0 1412.1,1203.2 1414.6,1203.3 1417.1,1203.5 1419.6,1203.6 1422.1,1203.7 1424.5,1203.9 1427.1,1204.0 1429.6,1204.2 1432.1,1204.3 1434.6,1204.4 1437.1,1204.6 1439.6,1204.7 1442.1,1204.9 1444.6,1205.0 1447.0,1205.1 1449.6,1205.3 1452.0,1205.4 1454.6,1205.5 1457.1,1205.7 1459.6,1205.8 1462.1,1205.9 1464.5,1206.1 1467.1,1206.2 1469.5,1206.3 1472.1,1206.5 1474.5,1206.6 1477.1,1206.7 1479.5,1206.9 1482.0,1207.0 1484.6,1207.1 1487.0,1207.3 1489.6,1207.4 1492.0,1207.5 1494.6,1207.6 1497.0,1207.8 1499.6,1207.9 1502.0,1208.0 1504.5,1208.1 1507.1,1208.3 1509.5,1208.4 1512.1,1208.5 1514.5,1208.6 1517.1,1208.8 1519.5,1208.9 1522.0,1209.0 1524.5,1209.1 1527.0,1209.2 1529.6,1209.4 1532.0,1209.5 1534.6,1209.6 1537.0,1209.7 1539.6,1209.8 1542.0,1209.9 1544.5,1210.1 1547.0,1210.2 1549.5,1210.3 1552.1,1210.4 1554.5,1210.5 1557.1,1210.6 1559.5,1210.8 1562.1,1210.9 1564.5,1211.0 1567.0,1211.1 1569.5,1211.2 1572.0,1211.3 1574.6,1211.4 1577.0,1211.5 1579.6,1211.6 1582.0,1211.8 1584.6,1211.9 1587.0,1212.0 1589.5,1212.1 1592.0,1212.2 1594.5,1212.3 1597.1,1212.4 1599.5,1212.5 1602.1,1212.6 1604.5,1212.7 1607.1,1212.8 1609.5,1212.9 1612.0,1213.0 1614.5,1213.1 1617.0,1213.2 1619.5,1213.3 1622.0,1213.4 1624.6,1213.5 1627.0,1213.6 1629.6,1213.7 1632.0,1213.8 1634.5,1213.9 1637.0,1214.0 1639.5,1214.1 1642.0,1214.2 1644.5,1214.3 1647.1,1214.4 1649.5,1214.5 1652.1,1214.6 1654.5,1214.7 1657.0,1214.8 1659.5,1214.9 1662.0,1215.0 1664.5,1215.1 1667.0,1215.2 1669.6,1215.3 1672.0,1215.4 1674.6,1215.5 1677.0,1215.6 1679.6,1215.7 1682.0,1215.7 1684.5,1215.8 1687.0,1215.9 1689.5,1216.0 1692.1,1216.1 1694.5,1216.2 1697.1,1216.3 1699.5,1216.4 1702.1,1216.5 1704.5,1216.5 1707.1,1216.6 1709.5,1216.7 1712.0,1216.8"/>
<path stroke="#37AD6B" d="M193.5,1258.5 193.6,1255.9 193.6,1253.5 193.7,1250.9 193.8,1248.5 193.8,1245.9 193.9,1243.5 194.0,1240.9 194.1,1238.5 194.1,1235.9 194.2,1233.4 194.3,1230.9 194.4,1228.4 194.4,1225.9 194.5,1223.4 194.6,1220.9 194.7,1218.4 194.8,1216.0 194.8,1213.4 194.9,1211.0 195.0,1208.4 195.1,1206.0 195.2,1203.4 195.3,1201.0 195.4,1198.4 195.5,1196.0 195.5,1193.4 195.6,1190.9 195.7,1188.4 195.8,1185.9 195.9,1183.4 196.0,1180.9 196.1,1178.4 196.2,1175.9 196.3,1173.4 196.4,1170.9 196.5,1168.4 196.6,1165.9 196.7,1163.4 196.8,1160.9 196.9,1158.4 197.0,1155.9 197.1,1153.4 197.2,1150.9 197.3,1148.4 197.5,1145.9 197.6,1143.4 197.7,1140.9 197.8,1138.4 197.9,1135.8 198.0,1133.4 198.1,1130.8 198.2,1128.4 198.4,1125.8 198.5,1123.4 198.6,1120.8 198.7,1118.4 198.8,1115.8 198.9,1113.4 199.1,1110.8 199.2,1108.4 199.3,1105.9 199.4,1103.4 199.6,1100.9 199.7,1098.4 199.8,1095.9 199.9,1093.4 200.1,1090.9 200.2,1088.4 200.3,1085.9 200.5,1083.4 200.6,1080.9 200.7,1078.4 200.9,1075.9 201.0,1073.4 201.1,1070.9 201.3,1068.4 201.4,1065.9 201.5,1063.4 201.7,1060.9 201.8,1058.4 201.9,1055.9 202.1,1053.4 202.2,1050.9 202.4,1048.4 202.5,1045.9 202.7,1043.5 202.8,1040.9 202.9,1038.5 203.1,1035.9 203.2,1033.5 203.4,1030.9 203.5,1028.5 203.7,1025.9 203.8,1023.5 204.0,1020.9 204.1,1018.5 204.3,1015.9 204.4,1013.5 204.6,1010.9 204.7,1008.5 204.9,1005.9 205.1,1003.5 205.2,1000.9 205.4,998.5 205.5,995.9 205.7,993.5 205.9,990.9 206.0,988.5 206.2,985.9 206.3,983.5 206.5,980.9 206.7,978.5 206.8,975.9 207.0,973.5 207.2,970.9 207.3,968.5 207.5,966.0 207.7,963.5 207.8,961.0 208.0,958.5 208.2,956.0 208.3,953.5 208.5,951.0 208.7,948.5 208.9,946.0 209.1,943.5 209.2,941.0 209.4,938.5 209.6,936.0 209.8,933.6 210.0,931.0 210.2,928.6 210.4,926.0 210.6,923.6 210.8,921.0 210.9,918.6 211.2,916.0 211.3,913.6 211.6,911.0 211.8,908.6 212.0,906.0 212.2,903.6 212.4,901.0 212.6,898.6 212.8,896.1 213.1,893.6 213.3,891.1 213.5,888.6 213.8,886.1 214.0,883.6 214.2,881.1 214.5,878.7 214.7,876.1 215.0,873.7 215.2,871.1 215.5,868.7 215.7,866.2 216.0,863.7 216.3,861.2 216.5,858.8 216.8,856.2 217.1,853.8 217.4,851.2 217.7,848.8 217.9,846.3 218.2,843.9 218.5,841.3 218.8,838.9 219.1,836.4 219.5,833.8 219.8,831.4 220.1,828.9 220.4,826.5 220.8,823.9 221.1,821.5 221.4,819.0 221.8,816.5 222.1,814.1 222.5,811.5 222.8,809.1 223.2,806.6 223.6,804.1 223.9,801.7 224.3,799.2 224.7,796.8 225.1,794.2 225.6,791.7 226.0,789.3 226.4,786.8 226.9,784.4 227.3,781.9 227.8,779.5 228.3,777.0 228.9,774.6 229.4,772.1 230.0,769.7 230.6,767.2 231.2,764.8 231.8,762.5 232.5,760.0 233.1,757.6 233.8,755.2 234.6,752.8 235.3,750.5 236.2,748.0 236.9,745.7 237.8,743.3 238.7,741.0 239.6,738.6 240.5,736.4 241.5,734.0 242.4,731.7 243.5,729.4 244.6,727.2 245.7,725.0 247.0,722.8 248.4,720.6 249.7,718.7 251.4,716.6 253.0,714.9 254.9,713.1 256.9,711.7 259.1,710.4 261.4,709.4 263.8,708.7 266.2,708.2 268.7,708.0 271.2,707.9 273.7,708.0 276.2,708.4 278.6,708.9 281.0,709.5 283.4,710.4 285.8,711.3 288.0,712.4 290.2,713.5 292.4,714.8 294.5,716.1 296.6,717.5 298.7,718.9 300.7,720.4 302.6,721.9 304.6,723.5 306.5,725.1 308.4,726.7 310.3,728.4 312.2,730.0 314.1,731.6 316.0,733.3 317.8,735.0 319.7,736.7 321.5,738.3 323.3,740.0 325.2,741.7 327.0,743.4 328.8,745.2 330.6,746.9 332.5,748.7 334.3,750.4 336.1,752.1 337.9,753.9 339.6,755.6 341.4,757.3 343.2,759.1 345.0,760.9 346.7,762.6 348.6,764.4 350.3,766.1 352.1,768.0 353.9,769.7 355.6,771.4 357.5,773.2 359.2,774.9 361.0,776.7 362.8,778.5 364.6,780.2 366.4,782.0 368.2,783.7 369.9,785.4 371.8,787.2 373.6,788.9 375.4,790.7 377.2,792.3 379.0,794.1 380.8,795.8 382.7,797.5 384.6,799.2 386.4,800.9 388.2,802.6 390.0,804.3 391.9,806.0 393.7,807.6 395.6,809.3 397.5,810.9 399.4,812.6 401.3,814.3 403.1,815.9 405.0,817.6 406.9,819.2 408.8,820.9 410.7,822.5 412.6,824.1 414.5,825.8 416.4,827.3 418.4,829.0 420.2,830.5 422.2,832.2 424.1,833.8 426.0,835.3 428.0,836.9 429.9,838.5 431.9,840.1 433.8,841.7 435.8,843.2 437.7,844.8 439.7,846.3 441.7,847.9 443.7,849.5 445.6,851.0 447.6,852.5 449.5,854.0 451.5,855.6 453.6,857.1 455.5,858.6 457.5,860.1 459.5,861.6 461.5,863.1 463.5,864.6 465.5,866.1 467.6,867.6 469.6,869.1 471.6,870.5 473.6,872.0 475.6,873.5 477.7,875.0 479.7,876.4 481.7,877.9 483.8,879.3 485.8,880.7 487.9,882.2 490.0,883.6 492.0,885.0 494.1,886.5 496.1,887.9 498.2,889.3 500.2,890.7 502.3,892.1 504.4,893.5 506.5,894.9 508.6,896.3 510.6,897.7 512.7,899.1 514.9,900.5 516.9,901.8 519.0,903.2 521.1,904.5 523.2,905.9 525.3,907.2 527.4,908.6 529.6,909.9 531.7,911.2 533.8,912.6 535.9,913.9 538.0,915.2 540.1,916.5 542.3,917.9 544.5,919.2 546.6,920.5 548.7,921.8 550.8,923.1 553.0,924.4 555.1,925.6 557.3,926.9 559.4,928.2 561.6,929.5 563.7,930.7 565.9,932.0 568.0,933.2 570.2,934.5 572.5,935.8 574.6,937.0 576.8,938.3 578.9,939.5 581.1,940.7 583.3,941.9 585.5,943.2 587.6,944.4 589.9,945.6 592.0,946.8 594.3,948.0 596.4,949.2 598.7,950.4 600.8,951.6 603.1,952.8 605.2,953.9 607.5,955.1 609.6,956.3 611.9,957.5 614.1,958.6 616.3,959.8 618.5,960.9 620.8,962.1 623.0,963.2 625.2,964.4 627.4,965.5 629.7,966.7 631.9,967.8 634.2,968.9 636.4,970.0 638.6,971.1 640.9,972.3 643.1,973.4 645.4,974.5 647.6,975.6 649.9,976.7 652.1,977.8 654.4,978.9 656.6,979.9 658.9,981.0 661.1,982.1 663.3,983.2 665.7,984.2 667.9,985.3 670.2,986.4 672.4,987.4 674.8,988.5 677.0,989.5 679.3,990.6 681.5,991.6 683.8,992.6 686.1,993.7 688.4,994.7 690.7,995.7 692.9,996.7 695.3,997.8 697.5,998.8 699.8,999.7 702.1,1000.8 704.4,1001.8 706.7,1002.8 709.0,1003.7 711.4,1004.8 713.6,1005.7 715.9,1006.7 718.2,1007.7 720.5,1008.6 722.9,1009.6 725.1,1010.6 727.5,1011.6 729.8,1012.5 732.0,1013.4 734.4,1014.4 736.7,1015.3 739.1,1016.3 741.4,1017.2 743.6,1018.1 746.0,1019.1 748.3,1020.0 750.7,1021.0 753.0,1021.9 755.4,1022.8 757.6,1023.7 759.9,1024.6 762.3,1025.5 764.6,1026.4 767.0,1027.3 769.3,1028.2 771.6,1029.1 774.0,1030.0 776.3,1030.8 778.7,1031.7 781.0,1032.6 783.4,1033.5 785.7,1034.4 788.0,1035.2 790.4,1036.1 792.7,1036.9 795.2,1037.8 797.5,1038.6 799.8,1039.5 802.2,1040.3 804.5,1041.2 806.9,1042.0 809.2,1042.8 811.7,1043.7 814.0,1044.5 816.4,1045.3 818.7,1046.1 821.0,1046.9 823.5,1047.8 825.8,1048.6 828.2,1049.4 830.5,1050.2 833.0,1051.0 835.3,1051.8 837.7,1052.6 840.0,1053.4 842.4,1054.1 844.8,1054.9 847.1,1055.7 849.6,1056.5 851.9,1057.3 854.3,1058.1 856.7,1058.8 859.1,1059.6 861.4,1060.3 863.9,1061.1 866.2,1061.8 868.7,1062.6 871.0,1063.3 873.4,1064.1 875.8,1064.8 878.2,1065.6 880.6,1066.3 883.0,1067.1 885.3,1067.8 887.8,1068.5 890.1,1069.2 892.6,1070.0 894.9,1070.7 897.4,1071.4 899.7,1072.1 902.2,1072.8 904.5,1073.5 907.0,1074.2 909.3,1074.9 911.8,1075.6 914.1,1076.3 916.6,1077.0 918.9,1077.7 921.4,1078.3 923.8,1079.0 926.2,1079.7 928.6,1080.4 931.0,1081.1 933.4,1081.7 935.9,1082.4 938.3,1083.1 940.7,1083.7 943.1,1084.4 945.5,1085.0 948.0,1085.7 950.3,1086.3 952.8,1087.0 955.2,1087.6 957.6,1088.3 960.0,1088.9 962.5,1089.5 964.8,1090.1 967.3,1090.8 969.7,1091.4 972.1,1092.0 974.6,1092.7 977.0,1093.3 979.5,1093.9 981.8,1094.5 984.3,1095.1 986.7,1095.7 989.1,1096.3 991.5,1096.9 994.0,1097.5 996.4,1098.1 998.9,1098.7 1001.2,1099.3 1003.7,1099.9 1006.1,1100.5 1008.6,1101.1 1011.0,1101.7 1013.4,1102.2 1015.9,1102.8 1018.3,1103.4 1020.8,1104.0 1023.2,1104.5 1025.6,1105.1 1028.0,1105.7 1030.5,1106.2 1032.9,1106.8 1035.4,1107.3 1037.9,1107.9 1040.3,1108.4 1042.7,1109.0 1045.1,1109.5 1047.6,1110.1 1050.0,1110.6 1052.5,1111.2 1054.9,1111.7 1057.4,1112.2 1059.8,1112.8 1062.3,1113.3 1064.7,1113.8 1067.2,1114.4 1069.5,1114.9 1072.0,1115.4 1074.5,1115.9 1076.9,1116.4 1079.4,1117.0 1081.8,1117.5 1084.3,1118.0 1086.7,1118.5 1089.2,1119.0 1091.6,1119.5 1094.1,1120.0 1096.5,1120.5 1099.0,1121.0 1101.4,1121.5 1103.9,1122.0 1106.3,1122.5 1108.8,1123.0 1111.2,1123.5 1113.7,1123.9 1116.2,1124.4 1118.6,1124.9 1121.1,1125.4 1123.5,1125.9 1126.0,1126.4 1128.4,1126.8 1131.0,1127.3 1133.4,1127.8 1135.9,1128.2 1138.3,1128.7 1140.8,1129.2 1143.2,1129.6 1145.7,1130.1 1148.1,1130.5 1150.6,1131.0 1153.0,1131.4 1155.5,1131.9 1157.9,1132.3 1160.5,1132.8 1162.9,1133.2 1165.4,1133.7 1167.8,1134.1 1170.3,1134.6 1172.7,1135.0 1175.2,1135.5 1177.6,1135.9 1180.2,1136.3 1182.6,1136.8 1185.1,1137.2 1187.5,1137.6 1190.0,1138.0 1192.4,1138.5 1195.0,1138.9 1197.4,1139.3 1199.9,1139.7 1202.3,1140.2 1204.8,1140.6 1207.2,1141.0 1209.8,1141.4 1212.2,1141.8 1214.7,1142.2 1217.1,1142.6 1219.6,1143.1 1222.1,1143.5 1224.6,1143.9 1227.0,1144.3 1229.5,1144.7 1231.9,1145.1 1234.5,1145.5 1236.9,1145.9 1239.4,1146.3 1241.8,1146.7 1244.4,1147.1 1246.8,1147.4 1249.3,1147.8 1251.7,1148.2 1254.2,1148.6 1256.7,1149.0 1259.2,1149.4 1261.6,1149.8 1264.1,1150.1 1266.6,1150.5 1269.1,1150.9 1271.5,1151.3 1274.1,1151.7 1276.5,1152.0 1279.0,1152.4 1281.4,1152.8 1284.0,1153.1 1286.4,1153.5 1288.9,1153.9 1291.3,1154.2 1293.9,1154.6 1296.3,1155.0 1298.7,1155.3 1301.3,1155.7 1303.7,1156.0 1306.2,1156.4 1308.6,1156.7 1311.2,1157.1 1313.6,1157.4 1316.1,1157.8 1318.6,1158.1 1321.1,1158.5 1323.5,1158.8 1326.1,1159.2 1328.5,1159.5 1331.0,1159.9 1333.5,1160.2 1336.0,1160.5 1338.4,1160.9 1341.0,1161.2 1343.4,1161.5 1345.9,1161.9 1348.4,1162.2 1350.8,1162.5 1353.3,1162.9 1355.8,1163.2 1358.3,1163.5 1360.7,1163.8 1363.3,1164.2 1365.7,1164.5 1368.2,1164.8 1370.7,1165.1 1373.2,1165.4 1375.6,1165.7 1378.2,1166.1 1380.6,1166.4 1383.2,1166.7 1385.6,1167.0 1388.0,1167.3 1390.6,1167.6 1393.0,1167.9 1395.5,1168.2 1398.0,1168.5 1400.5,1168.8 1403.0,1169.1 1405.5,1169.4 1407.9,1169.7 1410.5,1170.0 1412.9,1170.3 1415.5,1170.6 1417.9,1170.9 1420.4,1171.2 1422.9,1171.5 1425.3,1171.7 1427.8,1172.0 1430.3,1172.3 1432.8,1172.6 1435.3,1172.9 1437.8,1173.2 1440.2,1173.4 1442.8,1173.7 1445.2,1174.0 1447.8,1174.3 1450.2,1174.6 1452.8,1174.8 1455.2,1175.1 1457.7,1175.4 1460.2,1175.6 1462.6,1175.9 1465.2,1176.2 1467.6,1176.4 1470.1,1176.7 1472.6,1177.0 1475.1,1177.2 1477.6,1177.5 1480.1,1177.8 1482.6,1178.0 1485.1,1178.3 1487.5,1178.5 1490.1,1178.8 1492.5,1179.0 1495.1,1179.3 1497.5,1179.5 1500.1,1179.8 1502.5,1180.0 1505.0,1180.3 1507.5,1180.5 1509.9,1180.8 1512.5,1181.0 1514.9,1181.3 1517.5,1181.5 1519.9,1181.7 1522.4,1182.0 1524.9,1182.2 1527.4,1182.5 1529.9,1182.7 1532.4,1182.9 1534.9,1183.2 1537.4,1183.4 1539.8,1183.6 1542.4,1183.8 1544.8,1184.1 1547.4,1184.3 1549.8,1184.5 1552.4,1184.8 1554.8,1185.0 1557.4,1185.2 1559.8,1185.4 1562.4,1185.6 1564.8,1185.9 1567.3,1186.1 1569.8,1186.3 1572.2,1186.5 1574.8,1186.7 1577.2,1186.9 1579.8,1187.1 1582.2,1187.3 1584.8,1187.6 1587.2,1187.8 1589.7,1188.0 1592.2,1188.2 1594.7,1188.4 1597.2,1188.6 1599.7,1188.8 1602.2,1189.0 1604.7,1189.2 1607.2,1189.4 1609.7,1189.6 1612.1,1189.8 1614.7,1190.0 1617.1,1190.2 1619.7,1190.4 1622.1,1190.6 1624.7,1190.8 1627.1,1190.9 1629.7,1191.1 1632.1,1191.3 1634.6,1191.5 1637.2,1191.7 1639.6,1191.9 1642.2,1192.1 1644.6,1192.3 1647.2,1192.4 1649.6,1192.6 1652.2,1192.8 1654.6,1193.0 1657.1,1193.2 1659.6,1193.3 1662.1,1193.5 1664.6,1193.7 1667.1,1193.9 1669.6,1194.0 1672.1,1194.2 1674.6,1194.4 1677.1,1194.5 1679.5,1194.7 1682.1,1194.9 1684.5,1195.0 1687.1,1195.2 1689.6,1195.4 1692.1,1195.5 1694.6,1195.7 1697.0,1195.9 1699.6,1196.0 1702.0,1196.2 1704.6,1196.3 1707.0,1196.5 1709.6,1196.6 1712.0,1196.8"/>
<path stroke="#B177DE" d="M193.5,1258.5 193.5,1256.0 193.5,1253.5 193.5,1251.0 193.5,1248.4 193.5,1245.9 193.6,1243.4 193.7,1240.9 193.8,1238.4 193.9,1235.9 194.0,1233.4 194.1,1230.8 194.2,1228.3 194.3,1225.8 194.5,1223.3 194.7,1220.8 194.8,1218.3 195.0,1215.8 195.2,1213.3 195.3,1210.8 195.5,1208.2 195.7,1205.7 195.9,1203.2 196.1,1200.7 196.3,1198.2 196.5,1195.7 196.7,1193.2 196.9,1190.7 197.1,1188.2 197.2,1185.7 197.4,1183.2 197.6,1180.7 197.8,1178.2 198.0,1175.6 198.1,1173.1 198.3,1170.6 198.4,1168.1 198.6,1165.6 198.7,1163.1 198.8,1160.6 198.9,1158.1 199.0,1155.6 199.1,1153.0 199.3,1150.5 199.4,1148.0 199.6,1145.5 199.9,1143.0 200.2,1140.5 200.7,1138.0 201.2,1135.6 201.8,1133.2 202.6,1130.8 203.5,1128.4 204.6,1126.1 206.2,1124.2 208.6,1124.3 210.3,1126.2 211.3,1128.5 212.0,1130.9 212.6,1133.3 213.2,1135.8 213.8,1138.2 214.4,1140.6 215.1,1143.0 215.8,1145.5 216.6,1147.9 217.4,1150.3 218.2,1152.6 219.0,1155.0 219.8,1157.4 220.7,1159.7 221.6,1162.1 222.4,1164.5 223.3,1166.8 224.2,1169.2 225.0,1171.6 225.9,1173.9 226.7,1176.3 227.5,1178.7 228.4,1181.1 229.2,1183.4 230.0,1185.8 230.9,1188.2 231.8,1190.5 232.7,1192.8 233.6,1195.2 234.6,1197.5 235.6,1199.8 236.6,1202.1 237.7,1204.4 238.8,1206.6 240.0,1208.9 241.2,1211.1 242.5,1213.2 243.8,1215.3 245.3,1217.4 246.7,1219.4 248.3,1221.4 249.9,1223.3 251.7,1225.2 253.5,1226.9 255.4,1228.6 257.3,1230.1 259.4,1231.5 261.6,1232.9 263.7,1234.1 266.0,1235.3 268.2,1236.4 270.5,1237.5 272.8,1238.6 275.0,1239.7 277.3,1240.7 279.6,1241.8 281.9,1242.8 284.2,1243.8 286.5,1244.8 288.8,1245.8 291.1,1246.7 293.5,1247.6 295.8,1248.5 298.2,1249.4 300.6,1250.2 303.0,1251.0 305.4,1251.8 307.8,1252.5 310.2,1253.1 312.6,1253.8 315.1,1254.4 317.5,1254.9 320.0,1255.4 322.5,1255.8 325.0,1256.2 327.5,1256.5 330.0,1256.8 332.5,1257.0 335.0,1257.2 337.5,1257.3 340.0,1257.3 370.0,1258.3 420.0,1259.1 1712.0,1259.1"/>
<path stroke="#CC9900" d="M193.5,1258.5 193.6,1256.0 193.7,1253.5 193.8,1251.0 193.9,1248.5 194.0,1246.0 194.1,1243.5 194.2,1241.0 194.3,1238.5 194.4,1236.0 194.5,1233.5 194.6,1231.0 194.7,1228.5 194.8,1226.0 194.9,1223.5 195.0,1221.0 195.1,1218.5 195.2,1216.0 195.3,1213.5 195.4,1211.0 195.5,1208.5 195.6,1206.0 195.7,1203.5 195.8,1201.0 195.9,1198.5 196.0,1196.0 196.1,1193.5 196.2,1191.0 196.4,1188.5 196.5,1186.0 196.6,1183.5 196.7,1181.0 196.9,1178.6 197.0,1176.1 197.2,1173.6 197.3,1171.1 197.5,1168.6 197.7,1166.1 197.8,1163.6 198.0,1161.1 198.2,1158.6 198.4,1156.1 198.6,1153.6 198.8,1151.1 199.0,1148.6 199.3,1146.1 199.5,1143.6 199.7,1141.2 200.0,1138.7 200.3,1136.2 200.5,1133.7 200.8,1131.2 201.1,1128.7 201.4,1126.2 201.7,1123.8 202.1,1121.3 202.4,1118.8 202.8,1116.3 203.2,1113.9 203.6,1111.4 204.1,1108.9 204.9,1106.6 206.8,1105.1 209.3,1105.2 211.4,1106.6 212.9,1108.5 214.1,1110.7 215.0,1113.1 215.8,1115.5 216.5,1117.8 217.3,1120.2 218.0,1122.6 218.8,1125.0 219.5,1127.4 220.2,1129.8 221.0,1132.2 221.7,1134.6 222.5,1136.9 223.2,1139.3 223.9,1141.7 224.7,1144.1 225.4,1146.5 226.2,1148.9 226.9,1151.3 227.7,1153.6 228.5,1156.0 229.3,1158.4 230.1,1160.7 230.9,1163.1 231.7,1165.5 232.5,1167.8 233.4,1170.2 234.3,1172.5 235.2,1174.9 236.1,1177.2 237.0,1179.5 238.0,1181.8 238.9,1184.1 239.9,1186.4 241.0,1188.7 242.0,1191.0 243.1,1193.2 244.2,1195.5 245.3,1197.7 246.5,1199.9 247.7,1202.1 249.0,1204.3 250.2,1206.4 251.5,1208.5 252.9,1210.7 254.3,1212.7 255.7,1214.8 257.2,1216.8 258.7,1218.8 260.2,1220.8 261.8,1222.7 263.5,1224.6 265.2,1226.4 266.9,1228.2 268.7,1229.9 270.6,1231.6 272.4,1233.3 274.4,1234.9 276.4,1236.4 278.4,1237.8 280.4,1239.2 282.6,1240.6 284.7,1241.8 286.9,1243.0 289.1,1244.2 291.4,1245.2 293.7,1246.3 296.0,1247.2 298.3,1248.1 300.7,1248.9 303.1,1249.7 305.5,1250.4 307.9,1251.1 310.3,1251.7 312.7,1252.3 315.2,1252.8 317.6,1253.3 320.1,1253.7 322.6,1254.1 325.0,1254.4 327.5,1254.7 330.0,1255.0 332.5,1255.2 335.0,1255.3 347.7,1256.5 366.9,1257.2 386.0,1257.7 420.0,1257.9 516.0,1258.0 519.0,1259.1 1712.0,1259.1"/>
<path stroke="#00CBCC" d="M193.5,1258.5 193.6,1256.0 193.7,1253.5 193.9,1250.9 194.0,1248.4 194.1,1245.9 194.3,1243.4 194.5,1240.9 194.6,1238.3 194.8,1235.8 195.0,1233.3 195.1,1230.8 195.3,1228.3 195.4,1225.7 195.6,1223.2 195.7,1220.7 195.8,1218.2 195.9,1215.7 196.0,1213.1 196.1,1210.6 196.2,1208.1 196.4,1205.6 196.7,1203.1 197.1,1200.6 197.9,1198.2 199.1,1196.0 201.0,1194.3 203.3,1193.6 205.1,1195.2 206.1,1197.6 206.9,1200.0 207.6,1202.4 208.3,1204.8 209.1,1207.2 209.8,1209.6 210.6,1212.0 211.4,1214.4 212.3,1216.8 213.3,1219.1 214.3,1221.4 215.4,1223.7 216.5,1225.9 217.8,1228.1 219.2,1230.3 220.6,1232.3 222.2,1234.3 223.9,1236.2 225.7,1237.9 227.6,1239.6 229.6,1241.1 231.7,1242.5 233.9,1243.7 236.2,1244.9 238.4,1245.9 240.8,1246.9 243.1,1247.9 245.5,1248.7 247.9,1249.5 250.3,1250.3 252.7,1251.1 255.1,1251.7 257.5,1252.4 260.0,1253.0 262.5,1253.6 264.9,1254.1 267.4,1254.6 269.9,1255.0 272.4,1255.5 274.9,1255.8 277.4,1256.2 279.9,1256.5 282.4,1256.8 284.9,1257.0 287.4,1257.2 289.9,1257.4 292.4,1257.5 295.0,1257.6 297.5,1257.7 300.0,1257.8 340.0,1259.1 1712.0,1259.1"/>
<path stroke="#7D4E4E" d="M193.5,1258.5 193.5,1256.0 193.5,1253.5 193.5,1251.0 193.6,1248.5 193.6,1246.0 193.7,1243.5 193.9,1241.0 194.0,1238.5 194.1,1236.0 194.3,1233.5 194.5,1231.0 194.7,1228.5 194.9,1226.0 195.1,1223.5 195.3,1221.0 195.5,1218.5 195.7,1216.0 195.9,1213.6 196.1,1211.1 196.2,1208.6 196.4,1206.1 196.6,1203.6 196.7,1201.1 196.9,1198.6 197.0,1196.1 197.1,1193.6 197.2,1191.1 197.2,1188.6 197.4,1186.1 197.5,1183.6 197.8,1181.1 198.1,1178.6 198.6,1176.2 199.2,1173.7 199.9,1171.4 200.9,1169.0 202.3,1167.1 204.7,1167.2 206.6,1168.8 208.2,1170.7 209.6,1172.8 210.7,1175.1 211.7,1177.4 212.5,1179.7 213.2,1182.1 213.9,1184.5 214.7,1186.9 215.5,1189.3 216.3,1191.6 217.3,1193.9 218.2,1196.2 219.3,1198.5 220.4,1200.8 221.5,1203.0 222.8,1205.2 224.0,1207.3 225.4,1209.4 226.7,1211.5 228.2,1213.6 229.6,1215.6 231.2,1217.6 232.7,1219.5 234.4,1221.4 236.0,1223.3 237.8,1225.1 239.5,1226.9 241.3,1228.6 243.2,1230.3 245.0,1231.9 247.0,1233.5 248.9,1235.1 250.9,1236.6 253.0,1238.0 255.1,1239.4 257.2,1240.8 259.3,1242.1 261.5,1243.3 263.7,1244.5 265.9,1245.6 268.2,1246.7 270.5,1247.7 272.8,1248.6 275.1,1249.5 277.5,1250.3 279.8,1251.1 282.2,1251.9 284.6,1252.6 287.1,1253.2 289.5,1253.8 291.9,1254.3 294.4,1254.8 296.8,1255.3 299.3,1255.7 301.8,1256.1 304.3,1256.4 306.7,1256.7 309.2,1257.0 311.7,1257.2 314.2,1257.4 316.7,1257.5 319.2,1257.7 321.7,1257.7 324.2,1257.8 335.0,1258.1 376.0,1258.2 380.0,1259.1 1712.0,1259.1"/>
<path stroke="#8E8E00" d="M193.5,1259H1712"/>
</g>
<g fill="#000"><rect x="191" y="36" width="5" height="1225"/><rect x="1706" y="36" width="5" height="1225"/><rect x="170" y="36" width="1541" height="6"/><rect x="170" y="1256" width="1541" height="5"/><rect x="170.0" y="1256.0" width="21" height="5"/><rect x="1684.0" y="1256.0" width="22" height="5"/><rect x="182.0" y="1134.0" width="9" height="5"/><rect x="1696.0" y="1134.0" width="10" height="5"/><rect x="170.0" y="1012.1" width="21" height="5"/><rect x="1684.0" y="1012.1" width="22" height="5"/><rect x="182.0" y="890.1" width="9" height="5"/><rect x="1696.0" y="890.1" width="10" height="5"/><rect x="170.0" y="768.2" width="21" height="5"/><rect x="1684.0" y="768.2" width="22" height="5"/><rect x="182.0" y="646.2" width="9" height="5"/><rect x="1696.0" y="646.2" width="10" height="5"/><rect x="170.0" y="524.3" width="21" height="5"/><rect x="1684.0" y="524.3" width="22" height="5"/><rect x="182.0" y="402.4" width="9" height="5"/><rect x="1696.0" y="402.4" width="10" height="5"/><rect x="170.0" y="280.4" width="21" height="5"/><rect x="1684.0" y="280.4" width="22" height="5"/><rect x="182.0" y="158.5" width="9" height="5"/><rect x="1696.0" y="158.5" width="10" height="5"/><rect x="170.0" y="36.5" width="21" height="5"/><rect x="1684.0" y="36.5" width="22" height="5"/><rect x="191.0" y="1261" width="5" height="22"/><rect x="191.0" y="42" width="5" height="22"/><rect x="380.4" y="1261" width="5" height="10"/><rect x="380.4" y="42" width="5" height="10"/><rect x="569.8" y="1261" width="5" height="22"/><rect x="569.8" y="42" width="5" height="22"/><rect x="759.1" y="1261" width="5" height="10"/><rect x="759.1" y="42" width="5" height="10"/><rect x="948.5" y="1261" width="5" height="22"/><rect x="948.5" y="42" width="5" height="22"/><rect x="1137.9" y="1261" width="5" height="10"/><rect x="1137.9" y="42" width="5" height="10"/><rect x="1327.2" y="1261" width="5" height="22"/><rect x="1327.2" y="42" width="5" height="22"/><rect x="1516.6" y="1261" width="5" height="10"/><rect x="1516.6" y="42" width="5" height="10"/><rect x="1706.0" y="1261" width="5" height="22"/><rect x="1706.0" y="42" width="5" height="22"/></g>
<g font-family="'Liberation Serif', serif" font-size="51" fill="#000"><text x="154" y="1272.8" text-anchor="end">0</text><text x="154" y="1028.9" text-anchor="end">10</text><text x="154" y="785.0" text-anchor="end">20</text><text x="154" y="541.1" text-anchor="end">30</text><text x="154" y="297.2" text-anchor="end">40</text><text x="154" y="53.3" text-anchor="end">50</text><text x="194.5" y="1337.5" text-anchor="middle">0</text><text x="573.2" y="1337.5" text-anchor="middle">50</text><text x="952.0" y="1337.5" text-anchor="middle">100</text><text x="1330.8" y="1337.5" text-anchor="middle">150</text><text x="1709.5" y="1337.5" text-anchor="middle">200</text></g>
<text x="951" y="1439.5" text-anchor="middle" font-family="'Liberation Serif', serif" font-weight="bold" font-size="63.5">Time (ps)</text>
<text transform="translate(75,649.5) rotate(-90)" x="0" y="0" text-anchor="middle" font-family="'Liberation Serif', serif" font-weight="bold" font-size="63.5">Mole Fraction (%)</text>
<g><rect x="1276" y="69" width="332" height="444" fill="#fff" stroke="#000" stroke-width="2"/><line x1="1282.4" y1="96.9" x2="1368.8" y2="96.9" stroke="#515151" stroke-width="10" stroke-linecap="round"/><text x="1379.4" y="110.0" font-family="'Liberation Serif', serif" font-size="39.5">MF(CH3)</text><line x1="1282.4" y1="145.5" x2="1368.8" y2="145.5" stroke="#F14040" stroke-width="10" stroke-linecap="round"/><text x="1379.4" y="158.6" font-family="'Liberation Serif', serif" font-size="39.5">MF(CH2O)</text><line x1="1282.4" y1="194.0" x2="1368.8" y2="194.0" stroke="#1A6FDF" stroke-width="10" stroke-linecap="round"/><text x="1379.4" y="207.1" font-family="'Liberation Serif', serif" font-size="39.5">MF(CH3O)</text><line x1="1282.4" y1="242.6" x2="1368.8" y2="242.6" stroke="#37AD6B" stroke-width="10" stroke-linecap="round"/><text x="1379.4" y="255.7" font-family="'Liberation Serif', serif" font-size="39.5">MF(C2H5O)</text><line x1="1282.4" y1="291.1" x2="1368.8" y2="291.1" stroke="#B177DE" stroke-width="10" stroke-linecap="round"/><text x="1379.4" y="304.2" font-family="'Liberation Serif', serif" font-size="39.5">MF(C2H5O2)</text><line x1="1282.4" y1="339.7" x2="1368.8" y2="339.7" stroke="#CC9900" stroke-width="10" stroke-linecap="round"/><text x="1379.4" y="352.8" font-family="'Liberation Serif', serif" font-size="39.5">MF(C3H7O2)</text><line x1="1282.4" y1="388.3" x2="1368.8" y2="388.3" stroke="#00CBCC" stroke-width="10" stroke-linecap="round"/><text x="1379.4" y="401.4" font-family="'Liberation Serif', serif" font-size="39.5">MF(C3H7O3)</text><line x1="1282.4" y1="436.8" x2="1368.8" y2="436.8" stroke="#7D4E4E" stroke-width="10" stroke-linecap="round"/><text x="1379.4" y="449.9" font-family="'Liberation Serif', serif" font-size="39.5">MF(C4H9O3)</text><line x1="1282.4" y1="485.4" x2="1368.8" y2="485.4" stroke="#8E8E00" stroke-width="10" stroke-linecap="round"/><text x="1379.4" y="498.5" font-family="'Liberation Serif', serif" font-size="39.5">MF(C4H9O4)</text></g>
</svg>
</body></html>
